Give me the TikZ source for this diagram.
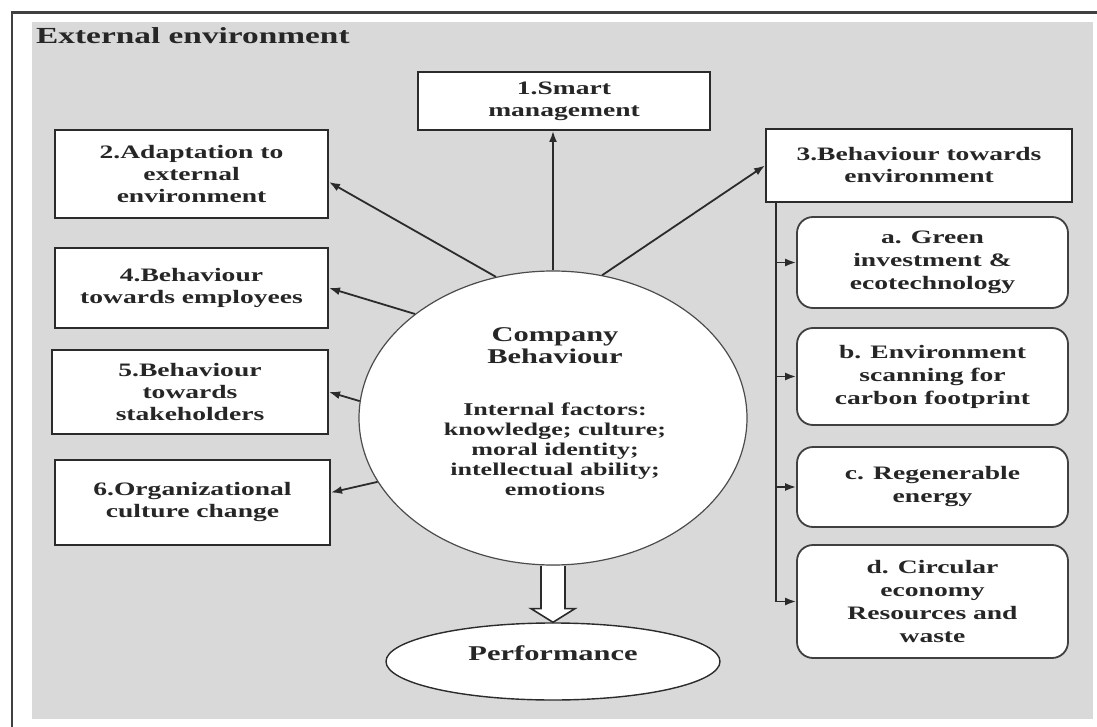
\documentclass[tikz,border=0pt]{standalone}
\usepackage{fontspec}
\setmainfont{Liberation Serif}[FakeStretch=1.45]
\usetikzlibrary{arrows.meta,calc,shapes.geometric}
\definecolor{envgray}{HTML}{D9D9D9}
\definecolor{edge}{HTML}{2B2B2B}
\tikzset{
  every node/.style={font=\bfseries\fontsize{19}{22}\selectfont, align=center, inner sep=0pt, text=black!85},
  sqbox/.style={draw=edge, line width=2pt, fill=white},
  rbox/.style={draw=edge!90, line width=1.8pt, fill=white, rounded corners=16pt, minimum width=271pt,
    font=\bfseries\fontsize{19}{23}\selectfont},
  conn/.style={-{Latex[length=11pt,width=8pt]}, line width=1.8pt, draw=edge},
  hollow/.style={draw=edge, line width=1.6pt, fill=white}
}
\begin{document}
\begin{tikzpicture}[x=1pt,y=-1pt]
    \useasboundingbox (0,0) rectangle (1097,727);
    \fill[envgray] (32,22) rectangle (1093,719);
    \draw[line width=2.2pt, draw=black!75] (12,727) -- (12,12.5) -- (1097,12.5);
    \node[anchor=base west, font=\bfseries\fontsize{23}{26}\selectfont] (title) at (36,44) {External environment};
    \node[sqbox, minimum width=292pt, minimum height=58pt] (smart) at (564,101) {1.Smart\\management};
    \node[sqbox, minimum width=273pt, minimum height=88pt] (adapt) at (191.5,174) {2.Adaptation to\\external\\environment};
    \node[sqbox, minimum width=306pt, minimum height=73pt] (envbeh) at (919,165.5) {3.Behaviour towards\\environment};
    \node[sqbox, minimum width=273pt, minimum height=80pt] (employ) at (191.5,288) {4.Behaviour\\towards employees};
    \node[sqbox, minimum width=276pt, minimum height=84pt] (stake) at (190,392) {5.Behaviour\\towards\\stakeholders};
    \node[sqbox, minimum width=275pt, minimum height=85pt] (culture) at (192.5,502.5) {6.Organizational\\culture change};
    \node[rbox, minimum height=91pt] (green) at (932.5,262.5) {a. Green\\investment \&\\ecotechnology};
    \node[rbox, minimum height=97pt] (scan) at (932.5,376.5) {b. Environment\\scanning for\\carbon footprint};
    \node[rbox, minimum height=80pt] (energy) at (932.5,487) {c. Regenerable\\energy};
    \node[rbox, minimum height=113pt] (circular) at (932.5,601.5) {d. Circular\\economy\\Resources and\\waste};
    \node[ellipse, draw=gray!60!black, line width=1.2pt, fill=white, minimum width=388pt, minimum height=294pt] (cb) at (553,418) {};
    \node[font=\bfseries\fontsize{21}{22}\selectfont] (cbtitle) at (555,346) {Company\\Behaviour};
    \node[font=\bfseries\fontsize{18}{20}\selectfont] (cbfactors) at (555,449) {Internal factors:\\knowledge; culture;\\moral identity;\\intellectual ability;\\emotions};
    \node[ellipse, draw=edge, line width=1.4pt, fill=white, minimum width=334pt, minimum height=77pt,
      text depth=16pt, font=\bfseries\fontsize{21}{22}\selectfont] (perf) at (553,661.5) {Performance};
    \draw[conn] (cb.north) -- (cb.north |- smart.south);
    \draw[conn] (cb.112) -- ([yshift=-8pt]adapt.east);
    \draw[conn] (cb.71) -- (envbeh.west);
    \draw[conn] (cb.143) -- (employ.east);
    \draw[conn] (cb.175) -- (stake.east);
    \draw[conn] (cb.200) -- ([yshift=10pt]culture.east);
    \coordinate (bend) at ([xshift=11pt]envbeh.south west);
    \draw[line width=1.8pt, draw=edge] (bend) -- (bend |- circular.west);
    \foreach \n in {green,scan,energy,circular}
        \draw[conn] (bend |- \n.west) -- (\n.west);
    \draw[hollow] ($(cb.south)+(-12,0.5)$) -- ++(0,42.5) -- ++(-10,0) -- (perf.north)
        -- ($(cb.south)+(22,43)$) -- ++(-10,0) -- ($(cb.south)+(12,0.5)$);
\end{tikzpicture}
\end{document}
